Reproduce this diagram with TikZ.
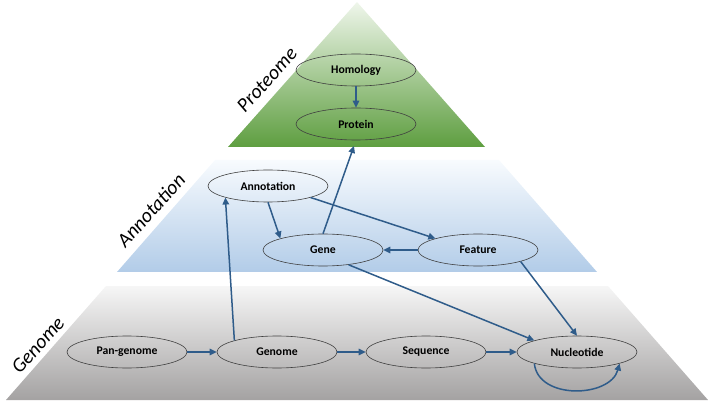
\documentclass[tikz,border=0pt]{standalone}
\usepackage{fontspec}
\setmainfont{Carlito}
\usetikzlibrary{shapes.geometric,arrows.meta}
\definecolor{arr}{HTML}{2F5C8A}
\definecolor{grtop}{HTML}{F6F6F6}
\definecolor{grbot}{HTML}{A4A2A2}
\definecolor{bltop}{HTML}{F8FBFE}
\definecolor{blbot}{HTML}{B2CCE8}
\definecolor{gntop}{HTML}{EFF6EB}
\definecolor{gnbot}{HTML}{5E9E40}
\begin{document}
\begin{tikzpicture}[x=1pt,y=1pt,
  ell/.style={ellipse,draw=black!75,line width=0.6pt,minimum width=120pt,minimum height=32pt,inner sep=0pt,font=\fontsize{11.7}{14}\selectfont\bfseries},
  layer/.style={font=\fontsize{20}{24}\selectfont\itshape,rotate=48,inner sep=0pt},
  link/.style={draw=arr,line width=1.5pt,-{Triangle[length=7pt,width=6.5pt]}}]
\useasboundingbox (0,-403) rectangle (709,0);
% layers
\shade[top color=grtop,bottom color=grbot] (106,-286) -- (608,-286) -- (708,-400) -- (6,-400) -- cycle;
\shade[top color=bltop,bottom color=blbot] (215,-160) -- (499,-160) -- (597,-272) -- (117,-272) -- cycle;
\shade[top color=gntop,bottom color=gnbot] (357,-2) -- (485,-147) -- (228,-147) -- cycle;
% layer labels
\node[layer] (lp) at (267,-80) {Proteome};
\node[layer] (la) at (151,-210) {Annotation};
\node[layer] (lg) at (38,-345) {Genome};
% nodes
\node[ell] (hom) at (356,-70) {Homology};
\node[ell] (pro) at (356,-124) {Protein};
\node[ell] (ann) at (268,-186) {Annotation};
\node[ell] (gene) at (323,-250) {Gene};
\node[ell] (feat) at (478,-250) {Feature};
\node[ell] (pan) at (127,-352) {Pan-genome};
\node[ell] (gen) at (277,-352) {Genome};
\node[ell] (seq) at (426,-352) {Sequence};
\node[ell] (nuc) at (577,-352) {Nucleotide};
% connectors
\draw[link] (hom) -- (pro);
\draw[link,shorten >=6pt] (gene.north) -- (pro.south);
\draw[link] (ann.south) -- (gene.north west);
\draw[link] (ann.south east) -- (feat.north west);
\draw[link] (feat.west) -- (gene.east);
\draw[link] (gene.-30) -- (nuc.north west);
\draw[link] (feat.south east) -- (nuc.north);
\draw[link] (gen.north west) -- (ann.south west);
\draw[link] (pan) -- (gen);
\draw[link] (gen) -- (seq);
\draw[link] (seq) -- (nuc);
\draw[link] (nuc.south west) .. controls (538,-400) and (610,-398) .. (nuc.south east);
\end{tikzpicture}
\end{document}
